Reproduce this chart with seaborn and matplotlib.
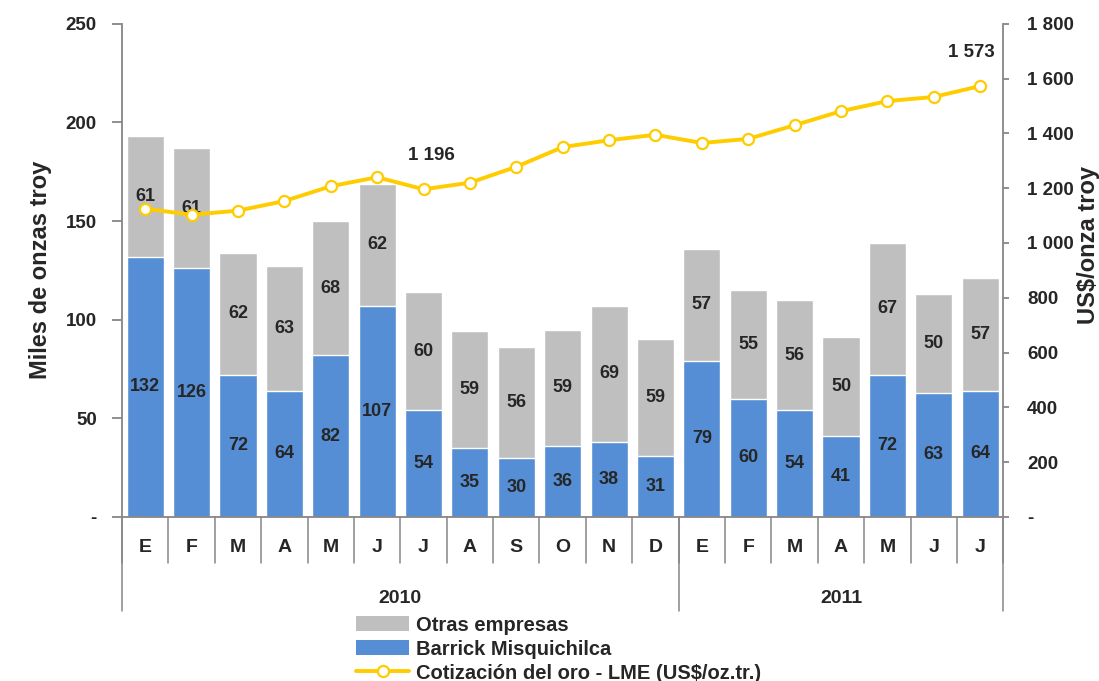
import pandas as pd
import numpy as np
import matplotlib.pyplot as plt
import matplotlib.ticker as mticker
from matplotlib.patches import Patch
from matplotlib.lines import Line2D
import seaborn as sns

sns.set_style("white")
plt.rcParams["font.family"] = ["Liberation Sans", "DejaVu Sans"]
plt.rcParams["font.weight"] = "bold"

# data
months = ['E', 'F', 'M', 'A', 'M', 'J', 'J', 'A', 'S', 'O', 'N', 'D',
          'E', 'F', 'M', 'A', 'M', 'J', 'J']
years = ['2010', '2011']
year_len = [12, 7]
barrick = [132, 126, 72, 64, 82, 107, 54, 35, 30, 36, 38, 31, 79, 60, 54, 41, 72, 63, 64]
otras = [61, 61, 62, 63, 68, 62, 60, 59, 56, 59, 69, 59, 57, 55, 56, 50, 67, 50, 57]
oro = [1125, 1103, 1118, 1153, 1207, 1240, 1196, 1220, 1278, 1350, 1375, 1395,
       1365, 1380, 1430, 1481, 1518, 1533, 1573]
oro_labels = {6: '1 196', 18: '1 573'}

df = pd.DataFrame({'pos': np.arange(len(months)), 'barrick': barrick, 'otras': otras, 'oro': oro})
df['total'] = df['barrick'] + df['otras']

c_blue = '#558ED5'
c_gray = '#BFBFBF'
c_gold = '#FFCC00'
c_axis = '#868686'

fig, ax = plt.subplots(figsize=(10.99, 6.81), dpi=100)
fig.subplots_adjust(left=0.111, right=0.913, top=0.965, bottom=0.241)

# stacked bars
sns.barplot(data=df, x='pos', y='total', color=c_gray, width=0.8, saturation=1, ax=ax)
sns.barplot(data=df, x='pos', y='barrick', color=c_blue, width=0.8, saturation=1, ax=ax)
ax.set_xlim(-0.5, len(months) - 0.5)
ax.set_ylim(0, 250)
ax.set_yticks(np.arange(0, 251, 50))
ax.yaxis.set_major_formatter(mticker.FuncFormatter(lambda v, p: '-' if v == 0 else '%d' % v))
ax.set_xticks([])
ax.set_xlabel('')
ax.set_ylabel('Miles de onzas troy', fontsize=17, fontweight='bold', labelpad=10)

for i in range(len(months)):
    ax.text(i, barrick[i] / 2, str(barrick[i]), ha='center', va='center', fontsize=13,
            fontweight='bold')
    ax.text(i, barrick[i] + otras[i] / 2, str(otras[i]), ha='center', va='center', fontsize=13,
            fontweight='bold', zorder=5)

# gold price line on right axis
ax2 = ax.twinx()
sns.lineplot(data=df, x='pos', y='oro', color=c_gold, linewidth=2.8, marker='o',
             markersize=8, markerfacecolor='white', markeredgecolor=c_gold,
             markeredgewidth=1.6, ax=ax2)
ax2.set_ylim(0, 1800)
ax2.set_yticks(np.arange(0, 1801, 200))
ax2.yaxis.set_major_formatter(mticker.FuncFormatter(
    lambda v, p: '-' if v == 0 else '{:,.0f}'.format(v).replace(',', ' ')))
ax2.set_ylabel('')
ax2.set_xlabel('')
for i, lab in oro_labels.items():
    ax2.annotate(lab, (i, oro[i]), xytext=(6 if i < 10 else -6, 18), textcoords='offset points',
                 ha='center', va='bottom', fontsize=13.5, fontweight='bold')
fig.text(0.99, 0.64, 'US$/onza troy', rotation=90, ha='center', va='center',
         fontsize=17, fontweight='bold')

for a in (ax, ax2):
    a.spines['top'].set_visible(False)
    for s in ['left', 'right', 'bottom']:
        a.spines[s].set_color(c_axis)
        a.spines[s].set_linewidth(1.3)
ax.tick_params(axis='y', direction='out', length=7, color=c_axis, width=1.3,
               labelsize=13.5, pad=11)
ax2.tick_params(axis='y', direction='out', length=4, color=c_axis, width=1.3,
                labelsize=13.5, pad=13)
ax.spines['right'].set_visible(False)
ax2.spines['left'].set_visible(False)
ax2.spines['bottom'].set_visible(False)

# two-level category axis
tr = ax.get_xaxis_transform()
for i in range(len(months) + 1):
    ax.plot([i - 0.5, i - 0.5], [0, -0.093], transform=tr, color=c_axis, lw=1.1, clip_on=False)
start = 0
for y, n in zip(years, year_len):
    ax.plot([start - 0.5, start - 0.5], [0, -0.19], transform=tr, color=c_axis, lw=1.1, clip_on=False)
    ax.text(start + (n - 1) / 2, -0.166, y, transform=tr, ha='center', va='center',
            fontsize=14, fontweight='bold')
    start += n
ax.plot([start - 0.5, start - 0.5], [0, -0.19], transform=tr, color=c_axis, lw=1.1, clip_on=False)
for i, m in enumerate(months):
    ax.text(i, -0.063, m, transform=tr, ha='center', va='center', fontsize=14, fontweight='bold')

# legend
handles = [Patch(facecolor=c_gray, edgecolor='none', label='Otras empresas'),
           Patch(facecolor=c_blue, edgecolor='none', label='Barrick Misquichilca'),
           Line2D([0], [0], color=c_gold, lw=2.8, marker='o', markersize=8,
                  markerfacecolor='white', markeredgecolor=c_gold, markeredgewidth=1.6,
                  label='Cotización del oro - LME (US$/oz.tr.)')]
fig.legend(handles=handles, loc='upper left', bbox_to_anchor=(0.317, 0.108), frameon=False,
           ncol=1, handlelength=2.6, handleheight=0.75, labelspacing=0.25,
           borderaxespad=0, handletextpad=0.35, prop={'weight': 'bold', 'size': 14.5})

fig.savefig('out.png', dpi=100)
